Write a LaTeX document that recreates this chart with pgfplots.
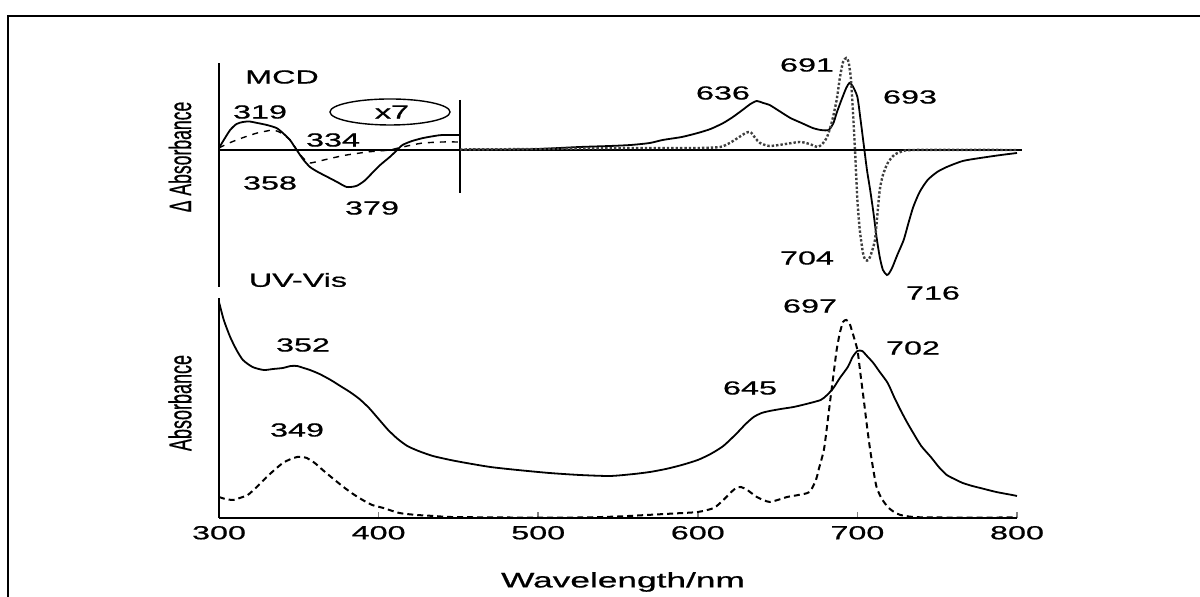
\documentclass[border=0pt]{standalone}
\usepackage{pgfplots}
\pgfplotsset{compat=1.18}
\usepackage{graphicx}
\usepackage{fontspec}
\setmainfont{Liberation Sans}[FakeBold=0.6]
\newcommand\sx[1]{\scalebox{1.7}[1]{#1}}
\newcommand\lbl{\fontsize{9.5}{11}\selectfont}
\newcommand\lab[3]{\node[font=\lbl,inner sep=0pt] at ({#1*0.5pt},{(597-#2)*0.5pt}) {\sx{#3}};}
\begin{document}
\begin{tikzpicture}
\useasboundingbox (0,0) rectangle (600pt,298.5pt);
% frame
\draw[line width=1pt] ({7.5*0.5pt},0) -- ({7.5*0.5pt},{(597-16.5)*0.5pt}) -- (600pt,{(597-16.5)*0.5pt});

% ---------- bottom panel: UV-Vis ----------
\begin{axis}[at={(109.5pt,39.5pt)}, anchor=south west, scale only axis,
  width=399pt, height=110pt, xmin=300, xmax=800, ymin=0, ymax=220,
  axis lines=left, axis line style={-, line width=1pt},
  ytick=\empty, xtick={300,400,500,600,700,800}, tick align=inside,
  major tick length=3pt, tick style={line width=0.8pt},
  /pgf/number format/assume math mode=true,
  xticklabel={\sx{\pgfmathprintnumber{\tick}}},
  xticklabel style={font=\lbl, yshift=-0.5pt},
  clip=false]
\addplot[black, line width=0.9pt, smooth, tension=0.4] coordinates {
(300,216)(303,198)(307,181)(311,168)(315,158)(321,151)(328,148)(334,149)(340,150)(345,152)(349,152)(353,150)(357,148)(363,144)(370,138)(376,132)(382,126)(388,119)(394,110)(400,99)(406,88)(412,79)(418,72)(425,67)(434,62)(445,58)(455,55)(470,51)(487,48)(507,45)(526,43)(545,42)(560,44)(570,46)(580,49)(590,53)(600,58)(608,64)(616,72)(624,84)(630,94)(635,101)(640,105)(645,107)(652,109)(660,111)(668,114)(677,118)(681,123)(685,130)(689,140)(694,151)(697,161)(700,167)(703,167)(706,162)(710,155)(714,146)(719,135)(723,121)(727,108)(731,96)(735,85)(740,72)(746,61)(751,51)(756,43)(762,38)(766,35)(772,32)(777,30)(787,26)(797,23)(800,22)};
\addplot[black, line width=1pt, densely dashed, smooth, tension=0.4] coordinates {
(300,21)(304,19)(309,18)(313,20)(318,23)(323,30)(328,38)(334,47)(340,55)(345,59)(349,61)(352,61)(355,60)(360,55)(365,48)(371,40)(378,31)(384,24)(390,18)(396,13)(403,10)(413,5)(424,3)(435,2)(445,1)(480,0.5)(526,0.5)(550,1.5)(568,3)(585,4.5)(600,6)(610,10)(616,18)(621,26)(624,30)(627,31)(631,28)(637,21)(641,18)(645,16)(650,18)(656,21)(663,23)(670,26)(674,38)(676,50)(679,68)(681,92)(683,118)(685,143)(687,168)(689,185)(691,196)(693,198)(695,195)(697,185)(700,168)(702,143)(704,118)(706,92)(708,68)(710,48)(712,31)(715,20)(719,11)(723,6)(727,3)(735,1)(750,0.5)(800,0.5)};
\end{axis}

% ---------- top panel: MCD ----------
\begin{axis}[at={(109.5pt,155pt)}, anchor=south west, scale only axis,
  width=399pt, height=112pt, xmin=300, xmax=800, ymin=-137, ymax=87,
  axis x line=none, axis y line=left, axis line style={-, line width=1pt},
  ytick=\empty, xtick=\empty, clip=false]
\addplot[black, line width=0.8pt] coordinates {(300,0)(803,0)};
\addplot[black, line width=0.8pt] coordinates {(451,50)(451,-43)};
\addplot[black, line width=0.9pt, smooth, tension=0.4] coordinates {
(300,2)(303,10)(307,20)(311,26)(315,28)(319,28.5)(324,27)(330,25)(336,22)(340,17)(344.5,10)(347,4)(349.5,-2)(353,-10)(357,-17)(362,-22)(368,-27)(374,-32)(380,-37)(386,-36)(391,-31)(396,-23)(401,-15)(407,-7)(411,-1)(415,5)(421,9)(428,12)(435,14)(440,15)(451,15)};
\addplot[black, line width=0.7pt, dashed, smooth, tension=0.4] coordinates {
(300,2)(305,6)(311,10)(318,14)(324,17)(330,19)(334,20)(339,17)(344.5,10)(348,2)(351,-5)(354,-10)(357,-13)(363,-11)(371,-8)(380,-5)(393,-2)(400,-1)(407,0)(415,3)(421,5)(428,7)(440,8)(451,8)};
\addplot[black, line width=0.9pt, smooth, tension=0.4] coordinates {
(451,0.3)(480,0.5)(500,1)(526,3)(545,4)(558,5)(570,7)(578,10)(590,13)(600,17)(608,21)(616,27)(622,33)(628,40)(633,46)(637,49)(641,47)(645,45)(651,39)(658,32)(665,27)(672,22)(677,20)(682,20)(685,27)(687,37)(690,50)(693,62)(695,67)(697,64)(700,53)(702,30)(704,5)(706,-20)(708,-40)(710,-62)(712,-87)(714,-107)(716,-120)(718.5,-125)(720,-123)(722,-117)(725,-105)(729,-90)(732,-73)(735,-57)(739,-42)(744,-30)(750,-22)(756,-17)(766,-11)(777,-8)(790,-5)(800,-3)};
\addplot[black!75, line width=1.2pt, densely dotted, smooth, tension=0.4] coordinates {
(451,0.5)(500,1)(560,2)(600,2)(614,3)(620,7)(626,13)(630,17)(633,18)(636,12)(639,7)(645,4)(655,6)(664,8)(670,6)(675,3)(678,6)(681,13)(684,28)(687,50)(689,72)(691,88)(693,92)(694.5,88)(696,70)(697.5,30)(698.5,0)(700,-50)(701.5,-80)(703.5,-103)(705,-110)(707,-110)(709,-102)(711,-90)(712.5,-65)(714,-40)(716,-25)(719,-13)(723,-5)(727,-2)(735,0)(800,0)};
\end{axis}

% ---------- labels ----------
\lab{282}{77}{MCD}
\lab{298}{280}{UV-Vis}
\lab{260}{112}{319}
\lab{333}{140}{334}
\lab{270}{183}{358}
\lab{372}{208}{379}
\draw[line width=0.7pt] ({390*0.5pt},{(597-112)*0.5pt}) ellipse (30pt and 6.5pt);
\lab{392}{112}{x7}
\lab{723}{93}{636}
\lab{807}{65}{691}
\lab{910}{97}{693}
\lab{807}{258}{704}
\lab{933}{293}{716}
\lab{810}{306}{697}
\lab{913}{348}{702}
\lab{750}{388}{645}
\lab{303}{345}{352}
\lab{297}{430}{349}
\node[font=\fontsize{10.5}{12}\selectfont,inner sep=0pt] at ({623*0.5pt},{(597-582)*0.5pt}) {\scalebox{1.68}[1]{Wavelength/nm}};
\node[font=\fontsize{8.8}{10}\selectfont,inner sep=0pt,rotate=90] at ({180*0.5pt},{(597-157)*0.5pt}) {\scalebox{1}[1.75]{Δ Absorbance}};
\node[font=\fontsize{9}{10}\selectfont,inner sep=0pt,rotate=90] at ({180*0.5pt},{(597-403)*0.5pt}) {\scalebox{1}[1.75]{Absorbance}};
\end{tikzpicture}
\end{document}
